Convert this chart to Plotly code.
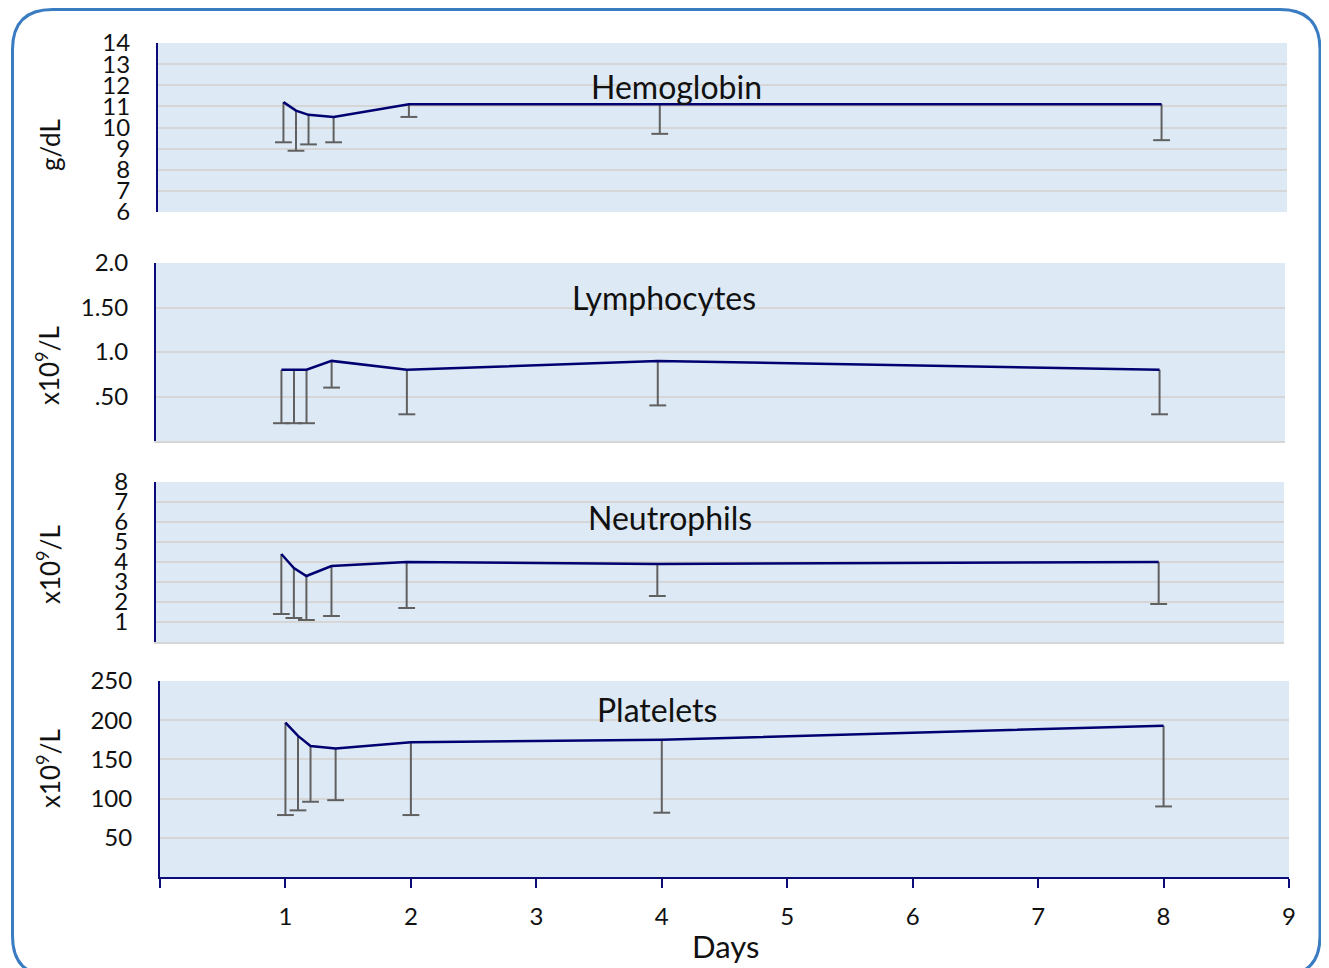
import plotly.graph_objects as go

W, H = 1329, 968
OFF = 8  # default page body margin

days = [1, 1.1, 1.2, 1.4, 2, 4, 8]

hgb_mean = [11.2, 10.8, 10.6, 10.5, 11.1, 11.1, 11.1]
hgb_low = [9.3, 8.9, 9.2, 9.3, 10.5, 9.7, 9.4]

lym_mean = [0.8, 0.8, 0.8, 0.9, 0.8, 0.9, 0.8]
lym_low = [0.2, 0.2, 0.2, 0.6, 0.3, 0.4, 0.3]

neu_mean = [4.4, 3.7, 3.3, 3.8, 4.0, 3.9, 4.0]
neu_low = [1.4, 1.2, 1.1, 1.3, 1.7, 2.3, 1.9]

plt_mean = [197, 180, 167, 164, 172, 175, 193]
plt_low = [79, 85, 96, 98, 79, 82, 90]

panels = [
    dict(name="Hemoglobin", unit="g/dL", mean=hgb_mean, low=hgb_low,
         yrange=[6, 14], tickvals=[6, 7, 8, 9, 10, 11, 12, 13, 14],
         ticktext=["6", "7", "8", "9", "10", "11", "12", "13", "14"],
         box=(158, 1287, 43, 212), title_xy=(676, 86), unit_xy=(50, 145)),
    dict(name="Lymphocytes", unit="x10<sup>9</sup>/L", mean=lym_mean, low=lym_low,
         yrange=[0, 2], tickvals=[0.5, 1.0, 1.5, 2.0],
         ticktext=[".50", "1.0", "1.50", "2.0"],
         box=(156, 1285, 263, 441), title_xy=(664, 297), unit_xy=(48, 366)),
    dict(name="Neutrophils", unit="x10<sup>9</sup>/L", mean=neu_mean, low=neu_low,
         yrange=[0, 8], tickvals=[1, 2, 3, 4, 5, 6, 7, 8],
         ticktext=["1", "2", "3", "4", "5", "6", "7", "8"],
         box=(156, 1284, 482, 642), title_xy=(670, 518), unit_xy=(48, 565)),
    dict(name="Platelets", unit="x10<sup>9</sup>/L", mean=plt_mean, low=plt_low,
         yrange=[0, 250], tickvals=[50, 100, 150, 200, 250],
         ticktext=["50", "100", "150", "200", "250"],
         box=(160, 1289, 681, 877), title_xy=(657, 709), unit_xy=(48, 769)),
]

x_ticks = [1, 2, 3, 4, 5, 6, 7, 8, 9]
x_ticktext = ["1", "2", "3", "4", "5", "6", "7", "8", "9"]

FONT = "Lato"
NAVY = "#0c0c78"
LINE = "#000070"
ERR = "#606060"
BG = "#dde9f5"
GRID = "#d6d6d6"
TXT = "#111111"


def fx(px):
    return (px - OFF) / W


def fy(py):
    return 1 - (py - OFF) / H


fig = go.Figure()
annotations = []

for i, p in enumerate(panels):
    n = i + 1
    xa = "x" if n == 1 else f"x{n}"
    ya = "y" if n == 1 else f"y{n}"
    # error bars (lower only)
    ex, ey = [], []
    for d, m, lo in zip(days, p["mean"], p["low"]):
        ex += [d, d, None]
        ey += [m, lo, None]
    fig.add_trace(go.Scatter(x=ex, y=ey, mode="lines", xaxis=xa, yaxis=ya,
                             line=dict(color=ERR, width=2), hoverinfo="skip",
                             showlegend=False, cliponaxis=False))
    fig.add_trace(go.Scatter(x=days, y=p["low"], mode="markers", xaxis=xa, yaxis=ya,
                             marker=dict(symbol="line-ew", size=12,
                                         line=dict(color=ERR, width=2)),
                             hoverinfo="skip", showlegend=False, cliponaxis=False))
    fig.add_trace(go.Scatter(x=days, y=p["mean"], mode="lines", xaxis=xa, yaxis=ya,
                             line=dict(color=LINE, width=2.5), hoverinfo="skip",
                             showlegend=False, cliponaxis=False))

    x0, x1, y0, y1 = p["box"]
    xkey = "xaxis" if n == 1 else f"xaxis{n}"
    ykey = "yaxis" if n == 1 else f"yaxis{n}"
    last = (n == len(panels))
    xaxis = dict(domain=[fx(x0), fx(x1)], range=[0, 9], anchor=ya,
                 showgrid=False, zeroline=False, fixedrange=True,
                 automargin=False)
    if last:
        xaxis.update(showline=True, linecolor=NAVY, linewidth=2,
                     ticks="outside", ticklen=9, tickwidth=2, tickcolor=NAVY,
                     tickvals=x_ticks, ticktext=x_ticktext,
                     minor=dict(tickvals=[0], ticks="outside", ticklen=9,
                                tickwidth=2, tickcolor=NAVY, showgrid=False),
                     tickfont=dict(family=FONT, size=24, color=TXT),
                     ticklabelstandoff=8)
    else:
        xaxis.update(showline=(n != 1), linecolor=GRID, linewidth=2,
                     showticklabels=False, ticks="")
    yaxis = dict(domain=[fy(y1), fy(y0)], range=p["yrange"], anchor=xa,
                 showline=True, linecolor=NAVY, linewidth=2,
                 showgrid=True, gridcolor=GRID, gridwidth=2, zeroline=False,
                 tickvals=p["tickvals"], ticktext=p["ticktext"], ticks="",
                 tickfont=dict(family=FONT, size=24, color=TXT),
                 ticklabelstandoff=21, fixedrange=True, automargin=False)
    fig.layout[xkey] = xaxis
    fig.layout[ykey] = yaxis

    # plot background rectangle
    fig.add_shape(type="rect", xref=f"{xa} domain", yref=f"{ya} domain",
                  x0=0, x1=1, y0=0, y1=1, fillcolor=BG, line=dict(width=0),
                  layer="below")

    tx, ty = p["title_xy"]
    annotations.append(dict(x=fx(tx), y=fy(ty), xref="paper", yref="paper",
                            text=p["name"], showarrow=False,
                            font=dict(family=FONT, size=32, color=TXT),
                            xanchor="center", yanchor="middle"))
    ux, uy = p["unit_xy"]
    annotations.append(dict(x=fx(ux), y=fy(uy), xref="paper", yref="paper",
                            text=p["unit"], showarrow=False, textangle=-90,
                            font=dict(family=FONT, size=26, color=TXT),
                            xanchor="center", yanchor="middle"))

annotations.append(dict(x=fx(725), y=fy(946), xref="paper", yref="paper",
                        text="Days", showarrow=False,
                        font=dict(family=FONT, size=31, color=TXT),
                        xanchor="center", yanchor="middle"))

# rounded border (top edge kept just inside the drawable area)
L, R, T, B, r = 12.5, 1320, 9.5, 976, 40
path = (f"M {fx(L + r)},{fy(T)} L {fx(R - r)},{fy(T)} "
        f"Q {fx(R)},{fy(T)} {fx(R)},{fy(T + r)} "
        f"L {fx(R)},{fy(B - r)} Q {fx(R)},{fy(B)} {fx(R - r)},{fy(B)} "
        f"L {fx(L + r)},{fy(B)} Q {fx(L)},{fy(B)} {fx(L)},{fy(B - r)} "
        f"L {fx(L)},{fy(T + r)} Q {fx(L)},{fy(T)} {fx(L + r)},{fy(T)} Z")
fig.add_shape(type="path", xref="paper", yref="paper", path=path,
              line=dict(color="#3a7cc2", width=3), layer="below")

fig.update_layout(width=W, height=H, margin=dict(l=0, r=0, t=0, b=0, pad=0),
                  paper_bgcolor="white", plot_bgcolor="rgba(0,0,0,0)",
                  annotations=annotations, showlegend=False,
                  font=dict(family=FONT))

fig.write_html("out.html")
